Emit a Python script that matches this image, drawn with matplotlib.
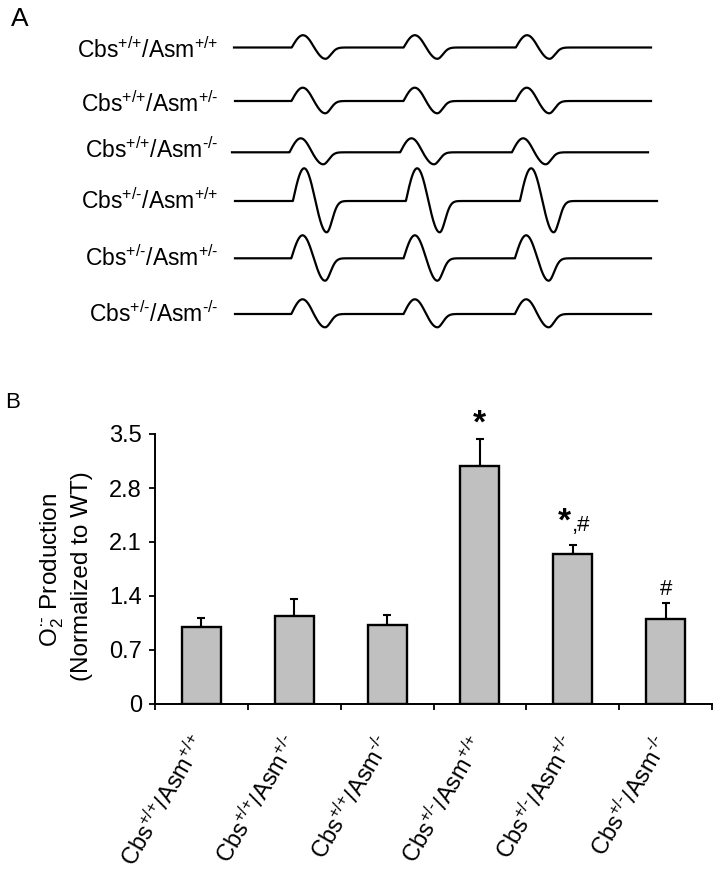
import numpy as np
import matplotlib
matplotlib.use('Agg')
import matplotlib.pyplot as plt
from matplotlib.transforms import ScaledTranslation

plt.rcParams['font.family'] = ['Liberation Sans', 'DejaVu Sans']
plt.rcParams['mathtext.fontset'] = 'custom'
plt.rcParams['mathtext.rm'] = 'Liberation Sans'
plt.rcParams['mathtext.it'] = 'Liberation Sans:italic'
plt.rcParams['mathtext.bf'] = 'Liberation Sans:bold'

# ---------------- data ----------------
HY = '\u2010'
P = '{+}'
genotypes = [
    r'Cbs$^{' + P + '/' + P + '}$/Asm$^{' + P + '/' + P + '}$',
    r'Cbs$^{' + P + '/' + P + '}$/Asm$^{' + P + '/' + HY + '}$',
    r'Cbs$^{' + P + '/' + P + '}$/Asm$^{' + HY + '/' + HY + '}$',
    r'Cbs$^{' + P + '/' + HY + '}$/Asm$^{' + P + '/' + P + '}$',
    r'Cbs$^{' + P + '/' + HY + '}$/Asm$^{' + P + '/' + HY + '}$',
    r'Cbs$^{' + P + '/' + HY + '}$/Asm$^{' + HY + '/' + HY + '}$',
]

# Panel A: EPR triplet traces (field position of each line centre, up / down amplitudes)
trace_centers = [
    [314.2, 426.1, 538.3],
    [314.0, 426.0, 538.0],
    [312.0, 422.7, 534.4],
    [315.4, 428.4, 542.4],
    [313.8, 426.1, 537.4],
    [313.8, 426.1, 537.4],
]
trace_up = [12.3, 13.3, 14.0, 32.7, 23.0, 14.7]
trace_down = [11.3, 12.3, 12.0, 31.3, 22.4, 13.3]
trace_span = [(234, 651), (235, 651), (232, 648), (235, 657), (235, 651), (235, 651)]
line_width_field = 45.0
tail_field = 5.5

# Panel B: bar values
values = [1.00, 1.14, 1.02, 3.09, 1.94, 1.10]
errors = [0.11, 0.22, 0.13, 0.34, 0.12, 0.21]
yticks = [0, 0.7, 1.4, 2.1, 2.8, 3.5]
ytick_labels = ['0', '0.7', '1.4', '2.1', '2.8', '3.5']

# ---------------- layout ----------------
W, H = 717, 877
fig = plt.figure(figsize=(W / 100, H / 100), dpi=100)

row_baselines = [47.5, 101, 152.3, 201, 258.3, 314]
label_centers = [50, 104, 150.5, 201, 258, 314]

axA = fig.add_axes([0, 0, 1, 1])
axA.set_xlim(0, W)
axA.set_ylim(H, 0)
axA.axis('off')


def line_shape(u, up, down):
    q = line_width_field / 4
    out = np.zeros_like(u)
    m1 = (u >= -2 * q) & (u <= q)
    out[m1] = -np.sin(2 * np.pi * u[m1] / line_width_field)
    m2 = u > q
    out[m2] = -np.exp(-((u[m2] - q) ** 2) / (2 * tail_field ** 2))
    return out * np.where(u < 0, up, down)


for i in range(6):
    x0, x1 = trace_span[i]
    xx = np.linspace(x0, x1, 2000)
    sig = np.zeros_like(xx)
    for c in trace_centers[i]:
        sig += line_shape(xx - c, trace_up[i], trace_down[i])
    axA.plot(xx, row_baselines[i] - sig, color='black', lw=1.6,
             solid_joinstyle='round')
    axA.text(218, label_centers[i] + 8, genotypes[i], ha='right',
             va='baseline', fontsize=16.5)

fig.text(11 / W, 1 - 26 / H, 'A', fontsize=19, va='baseline', ha='left')
fig.text(5 / W, 1 - 408 / H, 'B', fontsize=16, va='baseline', ha='left')

# ---------------- panel B ----------------
ax = fig.add_axes([155 / W, 1 - 704 / H, 557 / W, 270 / H])
x = np.arange(len(values)) + 0.5
ax.bar(x, values, width=0.42, color='#c0c0c0', edgecolor='black',
       linewidth=1.7, zorder=3)
ax.errorbar(x, values, yerr=[np.zeros(len(values)), errors], fmt='none',
            ecolor='black', elinewidth=1.5, capsize=2.6, capthick=1.5, zorder=2)
ax.set_xlim(0, 6)
ax.set_ylim(0, 3.5)
for s in ['top', 'right']:
    ax.spines[s].set_visible(False)
for s in ['left', 'bottom']:
    ax.spines[s].set_linewidth(1.4)
ax.set_yticks(yticks)
ax.set_yticklabels(ytick_labels)
ax.tick_params(axis='y', direction='out', length=4.5, width=1.3,
               labelsize=17, pad=5)
ax.set_xticks(np.arange(7))
ax.set_xticklabels([''] * 7)
ax.tick_params(axis='x', which='major', direction='out', length=4.5, width=1.3)
ax.set_xticks(x, minor=True)
ax.set_xticklabels(genotypes, minor=True, fontsize=17)
ax.tick_params(axis='x', which='minor', length=0, pad=20)
shift = ScaledTranslation(10 / 100, 0, fig.dpi_scale_trans)
for t in ax.get_xticklabels(minor=True):
    t.set_rotation(60)
    t.set_ha('right')
    t.set_va('top')
    t.set_transform(t.get_transform() + shift)

# significance marks (offsets in points above error cap)
px = 0.72
ax.annotate('*', (x[3], values[3] + errors[3]), xytext=(0, 15 * px),
            textcoords='offset points', ha='center', va='center',
            fontsize=24, fontweight='bold')
ax.annotate('*', (x[4], values[4] + errors[4]), xytext=(-8 * px, 23 * px),
            textcoords='offset points', ha='center', va='center',
            fontsize=24, fontweight='bold')
ax.annotate(',#', (x[4], values[4] + errors[4]), xytext=(-1 * px, 14 * px),
            textcoords='offset points', ha='left', va='baseline', fontsize=16)
ax.annotate('#', (x[5], values[5] + errors[5]), xytext=(0, 8 * px),
            textcoords='offset points', ha='center', va='baseline', fontsize=16)

fig.text(52 / W, 1 - 570 / H, 'O$_2^{\u00b7' + HY + '}$ Production', rotation=90,
         ha='center', va='center', fontsize=17.5)
fig.text(82 / W, 1 - 576 / H, '(Normalized to WT)', rotation=90,
         ha='center', va='center', fontsize=17.5)

fig.savefig('out.png', dpi=100)
